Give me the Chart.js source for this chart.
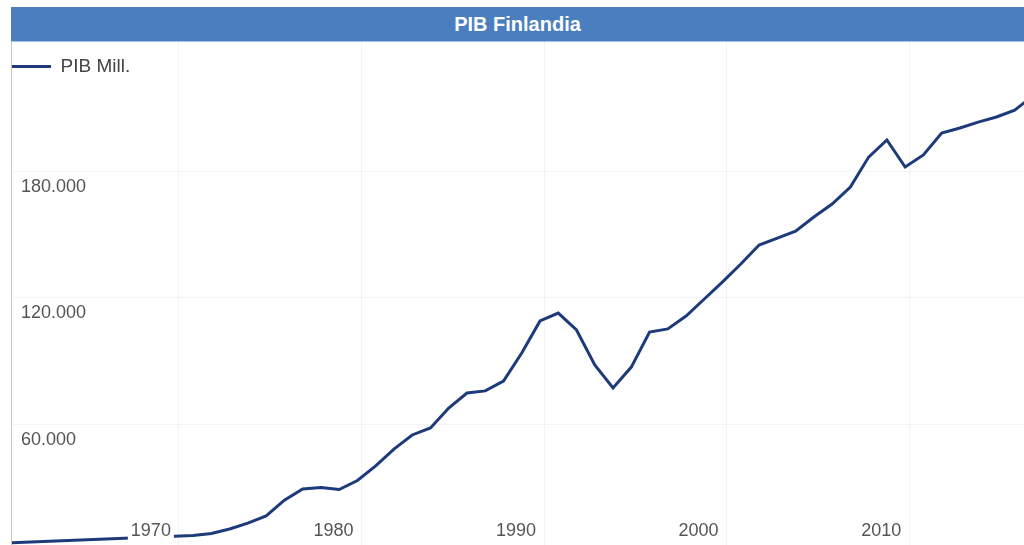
<!DOCTYPE html>
<html>
<head>
<meta charset="utf-8">
<script src="https://cdn.jsdelivr.net/npm/chart.js@4/dist/chart.umd.min.js"></script>
<style>
  html, body { margin: 0; padding: 0; background: #fff; }
  body { width: 1024px; height: 545px; position: relative; overflow: hidden; font-family: "Liberation Sans", Arial, sans-serif; }
  #title {
    position: absolute; left: 11px; top: 7px; width: 1013px; height: 34px;
    background: #4b7ebf; color: #fff; font-weight: bold; font-size: 20px;
    line-height: 34px; text-align: center; box-shadow: 0 1px 0 #9fc3e6;
  }
  #wrap {
    position: absolute; left: 11px; top: 41px; width: 1013px; height: 504px;
    border-left: 1px solid #c9c6bc; box-sizing: border-box;
  }
</style>
</head>
<body>
<div id="title">PIB Finlandia</div>
<div id="wrap"><canvas id="chart"></canvas></div>
<script>
// ===== Data (millones) =====
const years = [1960,
  1970, 1971, 1972, 1973, 1974, 1975, 1976, 1977, 1978, 1979,
  1980, 1981, 1982, 1983, 1984, 1985, 1986, 1987, 1988, 1989,
  1990, 1991, 1992, 1993, 1994, 1995, 1996, 1997, 1998, 1999,
  2000, 2001, 2002, 2003, 2004, 2005, 2006, 2007, 2008, 2009,
  2010, 2011, 2012, 2013, 2014, 2015, 2016];
const gdp = [3600,
  7100, 8100, 10200, 13000, 16400, 23900, 29200, 29900, 28900, 33200,
  40100, 48100, 54800, 58100, 67600, 74700, 75700, 80400, 93700, 108900,
  112600, 104600, 88000, 77100, 87000, 103600, 105100, 111200, 119300, 127400,
  135900, 144900, 148200, 151500, 158200, 164300, 172400, 186600, 194700, 181900,
  187600, 198000, 200400, 203200, 205600, 208900, 215600];
const xTicks = [1970, 1980, 1990, 2000, 2010];
const yTicks = [60000, 120000, 180000];
const seriesLabel = "PIB Mill.";

// points are dated near the end of each year on the time axis
const yearEnd = 0.78;

function fmt(v) {
  return String(v).replace(/\B(?=(\d{3})+(?!\d))/g, ".");
}

const gridColor = "rgba(0,0,0,0.045)";

new Chart(document.getElementById("chart"), {
  type: "line",
  data: {
    datasets: [{
      label: seriesLabel,
      data: years.map((yr, i) => ({ x: yr + yearEnd, y: gdp[i] })),
      borderColor: "#1d3a7a",
      backgroundColor: "#1d3a7a",
      borderWidth: 3,
      pointRadius: 0,
      tension: 0,
      fill: false
    }]
  },
  options: {
    responsive: true,
    maintainAspectRatio: false,
    animation: false,
    layout: { padding: 0 },
    plugins: {
      title: { display: false },
      tooltip: { enabled: false },
      legend: {
        position: "chartArea",
        align: "start",
        title: { display: true, text: "", padding: 0, font: { size: 16, lineHeight: 1 } },
        labels: {
          usePointStyle: true,
          pointStyle: "line",
          pointStyleWidth: 39,
          padding: 0,
          color: "#444",
          font: { family: "'Liberation Sans', Arial, sans-serif", size: 19 }
        }
      }
    },
    scales: {
      x: {
        type: "linear",
        position: { y: 15800 },
        min: 1960.86,
        max: 2016.29,
        afterBuildTicks: (s) => { s.ticks = xTicks.map(v => ({ value: v })); },
        afterFit: (s) => { s.paddingLeft = 0; s.paddingRight = 0; },
        grid: { color: gridColor, drawTicks: false },
        border: { display: false },
        ticks: {
          z: 1,
          maxRotation: 0,
          autoSkip: false,
          labelOffset: -28,
          padding: 3,
          color: "#555",
          showLabelBackdrop: true,
          backdropColor: "#fff",
          backdropPadding: { left: 3, right: 3, top: 0, bottom: 0 },
          font: { family: "'Liberation Sans', Arial, sans-serif", size: 18 },
          callback: (v) => String(v)
        }
      },
      y: {
        type: "linear",
        position: "left",
        min: 2609,
        max: 241660,
        afterBuildTicks: (s) => { s.ticks = yTicks.map(v => ({ value: v })); },
        afterFit: (s) => { s.width = 0; s.paddingTop = 0; s.paddingBottom = 0; },
        grid: { color: gridColor, drawTicks: false },
        border: { display: false },
        ticks: {
          mirror: true,
          padding: 9,
          labelOffset: 16,
          color: "#555",
          font: { family: "'Liberation Sans', Arial, sans-serif", size: 18 },
          callback: (v) => fmt(v)
        }
      }
    }
  }
});
</script>
</body>
</html>
